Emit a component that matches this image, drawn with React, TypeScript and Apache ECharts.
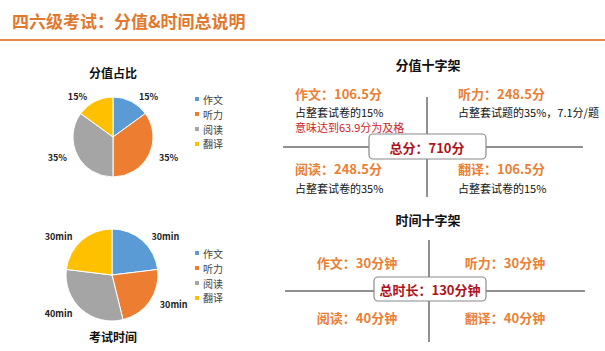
import React, { useEffect, useRef } from "react";
import * as echarts from "echarts";

const categories = ["作文", "听力", "阅读", "翻译"];
const scoreShare = [15, 35, 35, 15];
const timeMinutes = [30, 30, 40, 30];
const crossMinutes = [30, 30, 40, 40];
const scorePoints = ["106.5", "248.5", "248.5", "106.5"];
const scoreNotes = ["占整套试卷的15%", "占整套试题的35%，7.1分/题", "占整套试卷的35%", "占整套试卷的15%"];
const passNote = "意味达到63.9分为及格";
const totalScore = 710;
const totalTime = 130;
const colors = ["#5b9bd5", "#ed7d31", "#a5a5a5", "#ffc000"];

const FONT = '"Noto Sans CJK SC", "Noto Sans", sans-serif';
const ORANGE = "#ea7f35";
const DARKRED = "#b0121b";
const LINE = "#6b6b6b";

export default function App() {
  const ref = useRef<HTMLDivElement>(null);
  useEffect(() => {
    document.body.style.margin = "0";
    const chart = echarts.init(ref.current!, null, { renderer: "svg" });

    const t = (text: string, x: number, y: number, size: number, fill: string, bold: boolean, align = "left") => ({
      type: "text",
      x,
      y,
      style: {
        text,
        fill,
        font: `${bold ? "bold " : ""}${size}px ${FONT}`,
        align,
        verticalAlign: "middle",
      },
    });
    const ln = (x1: number, y1: number, x2: number, y2: number) => ({
      type: "line",
      shape: { x1, y1, x2, y2 },
      style: { stroke: LINE, lineWidth: 1.5 },
    });
    const box = (x: number, y: number, w: number, h: number) => ({
      type: "rect",
      shape: { x, y, width: w, height: h, r: 4 },
      style: { fill: "#fff", stroke: "#8a8a8a", lineWidth: 1.2 },
    });

    const graphic: any[] = [
      // header
      t("四六级考试：分值&时间总说明", 12, 20, 17, "#e2772e", true),
      { type: "rect", shape: { x: 0, y: 39, width: 605, height: 2 }, style: { fill: "#e58a4e" } },
      // pie titles
      t("分值占比", 113, 72, 12, "#111", true, "center"),
      t("考试时间", 113, 336, 12, "#111", true, "center"),
      // score cross
      t("分值十字架", 428, 64, 13, "#111", true, "center"),
      ln(283, 147, 583, 147),
      ln(427, 97, 427, 197),
      box(369, 134, 117, 25),
      t(`总分：${totalScore}分`, 427, 147, 13, DARKRED, true, "center"),
      t(`${categories[0]}：${scorePoints[0]}分`, 295, 93, 13, ORANGE, true),
      t(scoreNotes[0], 295, 112, 11, "#111", false),
      t(passNote, 295, 126.5, 11, "#d0232a", false),
      t(`${categories[1]}：${scorePoints[1]}分`, 458, 93, 13, ORANGE, true),
      t(scoreNotes[1], 458, 112, 11, "#111", false),
      t(`${categories[2]}：${scorePoints[2]}分`, 295, 168, 13, ORANGE, true),
      t(scoreNotes[2], 295, 188, 11, "#111", false),
      t(`${categories[3]}：${scorePoints[3]}分`, 458, 168, 13, ORANGE, true),
      t(scoreNotes[3], 458, 188, 11, "#111", false),
      // time cross
      t("时间十字架", 428, 219, 13, "#111", true, "center"),
      ln(285, 291, 585, 291),
      ln(429, 240, 429, 342),
      box(374, 277, 112, 24),
      t(`总时长：${totalTime}分钟`, 430, 289, 13, DARKRED, true, "center"),
      t(`${categories[0]}：${crossMinutes[0]}分钟`, 357, 262, 13, ORANGE, true, "center"),
      t(`${categories[1]}：${crossMinutes[1]}分钟`, 505, 262, 13, ORANGE, true, "center"),
      t(`${categories[2]}：${crossMinutes[2]}分钟`, 357, 317, 13, ORANGE, true, "center"),
      t(`${categories[3]}：${crossMinutes[3]}分钟`, 505, 317, 13, ORANGE, true, "center"),
    ];

    const legendBase = {
      orient: "vertical",
      left: 188,
      itemWidth: 6,
      itemHeight: 6,
      itemGap: 5,
      icon: "rect",
      data: categories,
      textStyle: { fontSize: 10, color: "#404040", fontFamily: FONT, padding: [0, 0, 0, -2] },
    };

    const pieSeries = (name: string, values: number[], center: number[], r: number, fmt: string) => ({
      type: "pie",
      name,
      center,
      radius: r,
      startAngle: 90,
      clockwise: true,
      data: categories.map((c, i) => ({ name: c, value: values[i] })),
      itemStyle: { borderColor: "#fff", borderWidth: 1 },
      label: {
        show: true,
        position: "outside",
        formatter: fmt,
        fontSize: 9,
        fontWeight: "bold",
        color: "#222",
        fontFamily: FONT,
      },
      labelLine: { show: false, length: 6, length2: 0 },
      emphasis: { disabled: true },
    });

    chart.setOption({
      animation: false,
      color: colors,
      legend: [
        { ...legendBase, top: 89 },
        { ...legendBase, top: 243 },
      ],
      series: [
        pieSeries("分值占比", scoreShare, [113, 137], 40, "{c}%"),
        pieSeries("考试时间", timeMinutes, [112, 275], 46, "{c}min"),
      ],
      graphic,
    });
    return () => chart.dispose();
  }, []);
  return <div ref={ref} style={{ width: 605, height: 351 }} />;
}
